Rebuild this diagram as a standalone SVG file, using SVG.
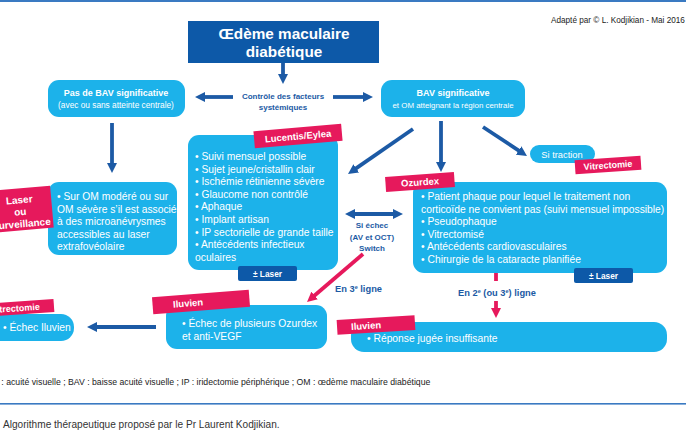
<svg xmlns="http://www.w3.org/2000/svg" width="686" height="430" viewBox="0 0 686 430">
<defs>
<style>
text{font-family:"Liberation Sans",Arial,sans-serif}
.lb{fill:#1cb2ea}
.db{fill:#0d59a8}
.pk{fill:#e6195c}
.w{fill:#fff;font-size:10.3px}
.wb{fill:#fff;font-weight:bold}
.bt{fill:#1b5aa4;font-weight:bold}
.ab{stroke:#1c5aa5;stroke-width:3.8;fill:none}
.ap{stroke:#e6195c;stroke-width:3.8;fill:none}
.mid{text-anchor:middle}
</style>
<marker id="mb" viewBox="0 0 10 10" refX="2" refY="5" markerWidth="10" markerHeight="10" markerUnits="userSpaceOnUse" orient="auto-start-reverse"><path d="M0,0 L10,5 L0,10 z" fill="#1c5aa5"/></marker>
<marker id="mp" viewBox="0 0 10 10" refX="2" refY="5" markerWidth="10" markerHeight="10" markerUnits="userSpaceOnUse" orient="auto-start-reverse"><path d="M0,0 L10,5 L0,10 z" fill="#e6195c"/></marker>
</defs>
<rect x="0" y="0" width="686" height="430" fill="#fff"/>
<rect x="0" y="0" width="686" height="2" fill="#3a7ac2"/>
<text x="551" y="23" font-size="8.2" fill="#222">Adapté par © L. Kodjikian - Mai 2016</text>

<g id="connectors">
<line class="ab" x1="283" y1="63" x2="283" y2="76" marker-end="url(#mb)"/>
<line class="ab" x1="233" y1="97" x2="203" y2="97" marker-end="url(#mb)"/>
<line class="ab" x1="333" y1="97" x2="365" y2="97" marker-end="url(#mb)"/>
<line class="ab" x1="112" y1="123" x2="112" y2="165" marker-end="url(#mb)"/>
<line class="ab" x1="413" y1="129" x2="354.6" y2="169.4" marker-end="url(#mb)"/>
<line class="ab" x1="441" y1="121" x2="441" y2="164" marker-end="url(#mb)"/>
<line class="ab" x1="483" y1="127" x2="520.3" y2="151.6" marker-end="url(#mb)"/>
<line class="ab" x1="353" y1="214" x2="395" y2="214" marker-start="url(#mb)" marker-end="url(#mb)"/>
<line class="ab" x1="156" y1="327" x2="95" y2="327" marker-end="url(#mb)"/>
<line class="ap" x1="363" y1="254" x2="313.1" y2="296.8" marker-end="url(#mp)"/>
<line class="ap" x1="496" y1="272" x2="496" y2="281"/>
<line class="ap" x1="496" y1="301" x2="496" y2="310" marker-end="url(#mp)"/>
</g>

<g id="controle">
<text class="bt mid" x="283" y="99" font-size="8">Contrôle des facteurs</text>
<text class="bt mid" x="283" y="110" font-size="8">systémiques</text>
</g>

<g id="title">
<rect class="db" x="188" y="21" width="191" height="42"/>
<text class="wb mid" x="284" y="39" font-size="15.3">Œdème maculaire</text>
<text class="wb mid" x="284" y="57" font-size="15.3">diabétique</text>
</g>

<g id="pas-bav">
<rect class="lb" x="48" y="80" width="137" height="37" rx="11"/>
<text class="wb mid" x="116" y="96" font-size="9">Pas de BAV significative</text>
<text class="mid" x="116" y="108" font-size="8.3" fill="#fff">(avec ou sans atteinte centrale)</text>
</g>

<g id="bav">
<rect class="lb" x="381" y="80" width="144" height="37" rx="11"/>
<text class="wb mid" x="453" y="96" font-size="9">BAV significative</text>
<text class="mid" x="453" y="108" font-size="7.9" fill="#fff">et OM atteignant la région centrale</text>
</g>

<g id="laser-surv">
<rect class="lb" x="48" y="182" width="129" height="73" rx="11"/>
<text class="w" x="57" y="200">• Sur OM modéré ou sur</text>
<text class="w" x="57" y="212.5">OM sévère s’il est associé</text>
<text class="w" x="57" y="225">à des microanévrysmes</text>
<text class="w" x="57" y="237.5">accessibles au laser</text>
<text class="w" x="57" y="250">extrafovéolaire</text>
<g transform="translate(24 209) rotate(-5)">
<rect class="pk" x="-40" y="-21" width="68" height="42"/>
<text class="wb mid" x="-4" y="-6" font-size="10">Laser</text>
<text class="wb mid" x="-4" y="6" font-size="10">ou</text>
<text class="wb mid" x="-4" y="18" font-size="10">Surveillance</text>
</g>
</g>

<g id="lucentis">
<rect class="lb" x="188" y="135" width="150" height="135" rx="11"/>
<text class="w" x="195" y="160">• Suivi mensuel possible</text>
<text class="w" x="195" y="172.6">• Sujet jeune/cristallin clair</text>
<text class="w" x="195" y="185.2">• Ischémie rétinienne sévère</text>
<text class="w" x="195" y="197.8">• Glaucome non contrôlé</text>
<text class="w" x="195" y="210.4">• Aphaque</text>
<text class="w" x="195" y="223">• Implant artisan</text>
<text class="w" x="195" y="235.6">• IP sectorielle de grande taille</text>
<text class="w" x="195" y="248.2">• Antécédents infectieux</text>
<text class="w" x="195" y="260.8">oculaires</text>
<rect class="db" x="238" y="266" width="59" height="15" rx="2"/>
<text class="wb mid" x="267.5" y="277" font-size="8.3">± Laser</text>
<g transform="translate(298 136) rotate(-5)">
<rect class="pk" x="-44" y="-8.5" width="88" height="17"/>
<text class="wb mid" x="0" y="3.5" font-size="9.5">Lucentis/Eylea</text>
</g>
</g>

<g id="si-echec">
<text class="bt mid" x="372" y="228" font-size="8">Si échec</text>
<text class="bt mid" x="372" y="239.5" font-size="8">(AV et OCT)</text>
<text class="bt mid" x="372" y="251" font-size="8">Switch</text>
</g>

<g id="ozurdex">
<rect class="lb" x="413" y="182" width="254" height="91" rx="11"/>
<text class="w" x="421" y="200">• Patient phaque pour lequel le traitement non</text>
<text class="w" x="421" y="212.6">corticoïde ne convient pas (suivi mensuel impossible)</text>
<text class="w" x="421" y="225.2">• Pseudophaque</text>
<text class="w" x="421" y="237.8">• Vitrectomisé</text>
<text class="w" x="421" y="250.4">• Antécédents cardiovasculaires</text>
<text class="w" x="421" y="263">• Chirurgie de la cataracte planifiée</text>
<rect class="db" x="574" y="268" width="59" height="15" rx="2"/>
<text class="wb mid" x="603.5" y="279" font-size="8.3">± Laser</text>
<g transform="translate(420 182) rotate(-4)">
<rect class="pk" x="-34.5" y="-7.5" width="69" height="15"/>
<text class="wb mid" x="0" y="3.5" font-size="9.5">Ozurdex</text>
</g>
</g>

<g id="si-traction">
<rect class="lb" x="530" y="145" width="65" height="18" rx="9"/>
<text class="mid" x="562" y="157.5" font-size="9.3" fill="#fff">Si traction</text>
<g transform="translate(608 165) rotate(-4)">
<rect class="pk" x="-33" y="-7" width="66" height="14"/>
<text class="wb mid" x="0" y="3.3" font-size="9">Vitrectomie</text>
</g>
</g>

<g id="labels-ligne">
<text class="bt" x="335" y="292" font-size="9.3">En 3<tspan font-size="5.5" dy="-3.5">e</tspan><tspan dy="3.5"> ligne</tspan></text>
<text class="bt mid" x="497" y="296" font-size="9.3">En 2<tspan font-size="5.5" dy="-3.5">e</tspan><tspan dy="3.5"> (ou 3</tspan><tspan font-size="5.5" dy="-3.5">e</tspan><tspan dy="3.5">) ligne</tspan></text>
</g>

<g id="iluvien-mid">
<rect class="lb" x="166" y="305" width="161" height="44" rx="11"/>
<text class="w" x="182" y="327">• Échec de plusieurs Ozurdex</text>
<text class="w" x="182" y="340">et anti-VEGF</text>
<g transform="translate(201 302) rotate(-4.5)">
<rect class="pk" x="-48.5" y="-8.5" width="97" height="17"/>
<text class="wb" x="-28" y="3.5" font-size="9.5">Iluvien</text>
</g>
</g>

<g id="vitrectomie-bas">
<rect class="lb" x="-20" y="314" width="94" height="27" rx="13"/>
<text class="w" x="3" y="331">• Échec Iluvien</text>
<g transform="translate(17 308) rotate(-4)">
<rect class="pk" x="-37" y="-6.5" width="74" height="13"/>
<text class="wb" x="-26" y="3.3" font-size="9">Vitrectomie</text>
</g>
</g>

<g id="iluvien-bas">
<rect class="lb" x="351" y="322" width="316" height="30" rx="13"/>
<text class="w" x="367" y="342">• Réponse jugée insuffisante</text>
<g transform="translate(376 325) rotate(-3.5)">
<rect class="pk" x="-39" y="-7.5" width="78" height="15"/>
<text class="wb" x="-25" y="3.5" font-size="9.5">Iluvien</text>
</g>
</g>

<text x="-12" y="385" font-size="8.7" fill="#222">AV : acuité visuelle ; BAV : baisse acuité visuelle ; IP : iridectomie périphérique ; OM : œdème maculaire diabétique</text>
<rect x="0" y="403" width="686" height="1.6" fill="#3a7ac2"/>
<text x="3" y="428" font-size="10.1" fill="#333">Algorithme thérapeutique proposé par le Pr Laurent Kodjikian.</text>
</svg>
